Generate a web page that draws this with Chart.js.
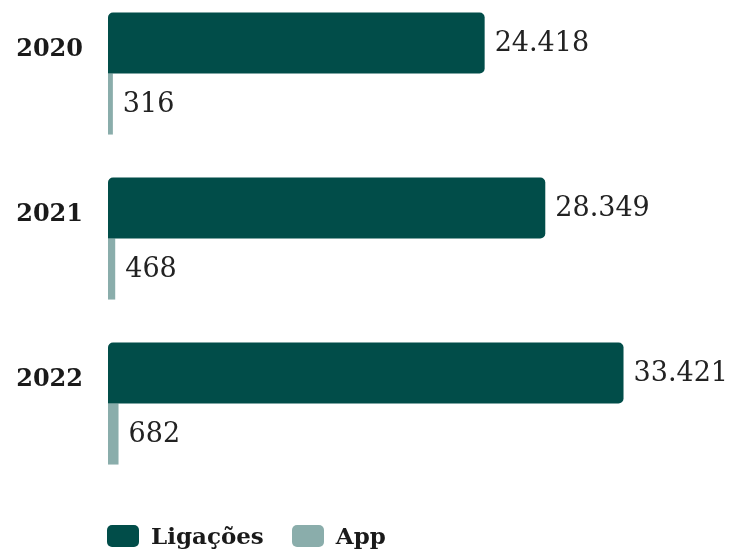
<!DOCTYPE html>
<html>
<head>
<meta charset="utf-8">
<script src="https://cdn.jsdelivr.net/npm/chart.js@4/dist/chart.umd.min.js"></script>
<style>
  html, body { margin: 0; padding: 0; background: #ffffff; }
  #wrap { position: relative; width: 751px; height: 549px; overflow: hidden; }
  #c { position: absolute; left: 0; top: -9px; }
  #legend { position: absolute; left: 107px; top: 522px; display: flex; align-items: center;
            font-family: "DejaVu Serif", serif; font-weight: bold; font-size: 23px; color: #1a1a1a; }
  .item { display: flex; align-items: center; margin-right: 28px; }
  .box { width: 32px; height: 22px; border-radius: 5px; margin-right: 12px; }
</style>
</head>
<body>
<div id="wrap">
  <canvas id="c" width="751" height="558"></canvas>
  <div id="legend"></div>
</div>
<script>
const categories = ["2020", "2021", "2022"];
const ligacoes = [24418, 28349, 33421];
const app = [316, 468, 682];
const seriesNames = ["Ligações", "App"];
const colors = ["#014d49", "#8aadab"];

function fmt(v) {
  return String(v).replace(/\B(?=(\d{3})+(?!\d))/g, ".");
}

const labelPlugin = {
  id: "labels",
  afterDatasetsDraw(chart) {
    const ctx = chart.ctx;
    ctx.save();
    chart.data.datasets.forEach((ds, di) => {
      const meta = chart.getDatasetMeta(di);
      meta.data.forEach((bar, i) => {
        ctx.font = "27px 'DejaVu Serif', serif";
        ctx.fillStyle = "#222222";
        ctx.textAlign = "left";
        ctx.textBaseline = "middle";
        ctx.fillText(fmt(ds.data[i]), bar.x + 10, bar.y + 1);
      });
    });
    const meta0 = chart.getDatasetMeta(0);
    ctx.font = "bold 24px 'DejaVu Serif', serif";
    ctx.fillStyle = "#1a1a1a";
    ctx.textAlign = "right";
    ctx.textBaseline = "middle";
    meta0.data.forEach((bar, i) => {
      ctx.fillText(chart.data.labels[i], 83, bar.y + 7);
    });
    ctx.restore();
  }
};

const chart = new Chart(document.getElementById("c"), {
  type: "bar",
  data: {
    labels: categories,
    datasets: [
      {
        label: seriesNames[0],
        data: ligacoes,
        backgroundColor: colors[0],
        borderRadius: { topLeft: 5, topRight: 5, bottomRight: 5, bottomLeft: 0 },
        borderSkipped: false
      },
      {
        label: seriesNames[1],
        data: app,
        backgroundColor: colors[1],
        borderRadius: 0
      }
    ]
  },
  options: {
    indexAxis: "y",
    responsive: false,
    animation: false,
    devicePixelRatio: 1,
    layout: { padding: { left: 108, right: 26, top: 0, bottom: 63 } },
    datasets: { bar: { barPercentage: 1, categoryPercentage: 0.74 } },
    scales: {
      x: { display: false, min: 0, max: 40000 },
      y: { display: false }
    },
    plugins: {
      legend: { display: false },
      tooltip: { enabled: false }
    }
  },
  plugins: [labelPlugin]
});

const legend = document.getElementById("legend");
chart.data.datasets.forEach(ds => {
  const item = document.createElement("div");
  item.className = "item";
  const box = document.createElement("div");
  box.className = "box";
  box.style.background = ds.backgroundColor;
  const txt = document.createElement("span");
  txt.textContent = ds.label;
  item.appendChild(box);
  item.appendChild(txt);
  legend.appendChild(item);
});
</script>
</body>
</html>
